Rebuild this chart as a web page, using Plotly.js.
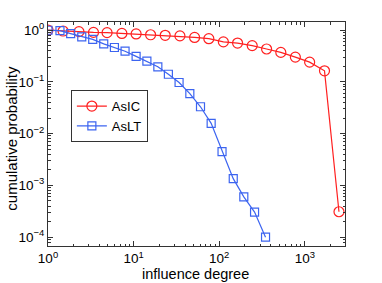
<!DOCTYPE html>
<html>
<head>
<meta charset="utf-8">
<script src="https://cdn.plot.ly/plotly-3.0.1.min.js"></script>
<style>html,body{margin:0;padding:0;background:#fff;}#chart{width:382px;height:283px;}</style>
</head>
<body>
<div id="chart"></div>
<script>
const icDegree = [1, 1.5, 2.3, 3.4, 4.9, 7.3, 10.7, 15.8, 23.4, 34.8, 51.6, 75.7, 112, 164, 243, 358, 525, 776, 1140, 1700, 2510];
const icProb = [1.0, 0.957, 0.93, 0.90, 0.89, 0.86, 0.84, 0.81, 0.79, 0.77, 0.72, 0.68, 0.59, 0.56, 0.50, 0.43, 0.37, 0.30, 0.24, 0.163, 0.00031];
const ltDegree = [1, 1.38, 1.84, 2.48, 3.33, 4.48, 5.97, 7.95, 10.7, 14.3, 19.2, 25.5, 34.0, 45.4, 60.5, 80.6, 108, 146, 194, 259, 348];
const ltProb = [0.99, 0.97, 0.85, 0.74, 0.66, 0.54, 0.46, 0.39, 0.31, 0.25, 0.195, 0.14, 0.097, 0.059, 0.033, 0.0158, 0.0045, 0.00135, 0.0006, 0.000305, 0.0001];

const xTickVals = [1, 10, 100, 1000];
const xTickText = ['10<sup>0</sup>', '10<sup>1</sup>', '10<sup>2</sup>', '10<sup>3</sup>'];
const yTickVals = [1e-4, 1e-3, 1e-2, 1e-1, 1];
const yTickText = ['10<sup>−4</sup>', '10<sup>−3</sup>', '10<sup>−2</sup>', '10<sup>−1</sup>', '10<sup>0</sup>'];
const xTitle = 'influence degree';
const yTitle = 'cumulative probability';

const fam = 'Liberation Sans, Arial, sans-serif';
const tickFont = {family: fam, size: 13.5, color: '#000'};
const traces = [
  {x: icDegree, y: icProb, name: 'AsIC', type: 'scatter', mode: 'lines+markers',
   line: {color: '#ff2020', width: 1.2},
   marker: {symbol: 'circle-open', size: 10, color: '#ff2020', line: {width: 1.2}}},
  {x: ltDegree, y: ltProb, name: 'AsLT', type: 'scatter', mode: 'lines+markers',
   line: {color: '#3c64f0', width: 1.2},
   marker: {symbol: 'square-open', size: 8, color: '#3c64f0', line: {width: 1.2}}}
];
const axisCommon = {
  type: 'log', showgrid: false, zeroline: false, showline: true, linecolor: '#333', linewidth: 1,
  mirror: 'allticks', ticks: 'inside', ticklen: 5, tickcolor: '#333',
  tickmode: 'array', tickfont: tickFont, automargin: false,
  minor: {ticks: 'inside', ticklen: 2.5, tickcolor: '#333', dtick: 'D1'}
};
const layout = {
  width: 382, height: 283,
  margin: {l: 48, r: 37, t: 22, b: 37},
  paper_bgcolor: '#fff', plot_bgcolor: '#fff',
  font: {family: fam, size: 13, color: '#000'},
  showlegend: true,
  legend: {x: 0.077, y: 0.696, xanchor: 'left', yanchor: 'top', bgcolor: '#fff',
           bordercolor: '#333', borderwidth: 1, font: {family: fam, size: 13, color: '#000'},
           tracegroupgap: 0, itemwidth: 30},
  xaxis: Object.assign({}, axisCommon, {range: [0, 3.47], tickvals: xTickVals, ticktext: xTickText}),
  yaxis: Object.assign({}, axisCommon, {range: [-4.17, 0.155], tickvals: yTickVals, ticktext: yTickText}),
  annotations: [
    {text: xTitle, xref: 'paper', yref: 'paper', x: 0.495, y: 0, xanchor: 'center', yanchor: 'top',
     yshift: -18, showarrow: false, font: {family: fam, size: 14.5, color: '#000'}},
    {text: yTitle, xref: 'paper', yref: 'paper', x: 0, y: 0.479, xanchor: 'center', yanchor: 'middle',
     xshift: -36, textangle: -90, showarrow: false, font: {family: fam, size: 15, color: '#000'}}
  ]
};
Plotly.newPlot('chart', traces, layout, {displayModeBar: false, staticPlot: true});
</script>
</body>
</html>
